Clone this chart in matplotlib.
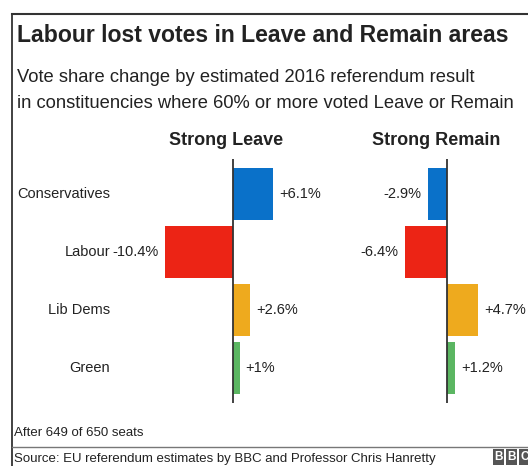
import matplotlib
matplotlib.use("Agg")
import matplotlib.pyplot as plt
import matplotlib.transforms as mtrans
from matplotlib.font_manager import fontManager

# ---- data ----
parties = ["Conservatives", "Labour", "Lib Dems", "Green"]
leave_values = [6.1, -10.4, 2.6, 1.0]
remain_values = [-2.9, -6.4, 4.7, 1.2]
leave_labels = ["+6.1%", "-10.4%", "+2.6%", "+1%"]
remain_labels = ["-2.9%", "-6.4%", "+4.7%", "+1.2%"]
colors = ["#0a71c9", "#ec2415", "#eeaa1e", "#5bb662"]
panel_titles = ["Strong Leave", "Strong Remain"]

title = "Labour lost votes in Leave and Remain areas"
subtitle = ["Vote share change by estimated 2016 referendum result",
            "in constituencies where 60% or more voted Leave or Remain"]
note = "After 649 of 650 seats"
source = "Source: EU referendum estimates by BBC and Professor Chris Hanretty"

names = {f.name for f in fontManager.ttflist}
NARROW = "Liberation Sans Narrow" if "Liberation Sans Narrow" in names else "Liberation Sans"
REG = "Liberation Sans"

W, H = 528, 466
fig = plt.figure(figsize=(W / 100, H / 100), dpi=100)
fig.patch.set_facecolor("white")

def fx(x):
    return x / W

def fy(y):
    return 1 - y / H

TXT = "#222222"

# frame
fig.add_artist(plt.Line2D([fx(12), fx(12)], [fy(14), fy(466)], color="#333333", lw=1.3))
fig.add_artist(plt.Line2D([fx(12), fx(528)], [fy(14), fy(14)], color="#333333", lw=1.5))
fig.add_artist(plt.Line2D([fx(12), fx(528)], [fy(446.5), fy(446.5)], color="#777777", lw=1.0))

# titles
title_size = 19.5 if NARROW != REG else 16.6
fig.text(fx(17), fy(36), title, fontsize=title_size, fontweight="bold", family=NARROW,
         color=TXT, va="center", ha="left")
fig.text(fx(17), fy(78), subtitle[0], fontsize=13.2, family=REG, color=TXT, va="center", ha="left")
fig.text(fx(17), fy(103), subtitle[1], fontsize=13.2, family=REG, color=TXT, va="center", ha="left")

# panel geometry (pixels)
scale = 6.5          # px per percentage point
row0, step = 194, 58  # row center and spacing in px
top_px, bot_px = 159, 403
zeros = [233, 447]
spans = [(150, 330), (395, 510)]
headers_x = [226, 436]
values = [leave_values, remain_values]
labels = [leave_labels, remain_labels]

y_top = (top_px - row0) / step
y_bot = (bot_px - row0) / step

for k in range(2):
    x0, x1 = spans[k]
    z = zeros[k]
    ax = fig.add_axes([fx(x0), fy(bot_px), (x1 - x0) / W, (bot_px - top_px) / H])
    ax.set_xlim((x0 - z) / scale, (x1 - z) / scale)
    ax.set_ylim(y_bot, y_top)
    ax.axis("off")
    ypos = list(range(len(parties)))
    ax.barh(ypos, values[k], height=0.9, color=colors, edgecolor="none", zorder=2)
    ax.axvline(0, color="#333333", lw=1.3, zorder=3)
    for i, (v, lab) in enumerate(zip(values[k], labels[k])):
        if v >= 0:
            ax.annotate(lab, (v, i), xytext=(4.5, 0), textcoords="offset points",
                        ha="left", va="center", fontsize=10.5, family=REG, color=TXT)
        else:
            ax.annotate(lab, (v, i), xytext=(-5, 0), textcoords="offset points",
                        ha="right", va="center", fontsize=10.5, family=REG, color=TXT)
    fig.text(fx(headers_x[k]), fy(140), panel_titles[k], fontsize=13, fontweight="bold",
             family=NARROW, color=TXT, ha="center", va="center")
    if k == 0:
        tr = mtrans.blended_transform_factory(fig.transFigure, ax.transData)
        for i, p in enumerate(parties):
            ax.text(fx(110), i, p, transform=tr, ha="right", va="center",
                    fontsize=10.5, family=REG, color=TXT, clip_on=False)

# footer
fig.text(fx(14), fy(433), note, fontsize=9.5, family=REG, color=TXT, ha="left", va="center")
fig.text(fx(14), fy(459), source, fontsize=9.5, family=REG, color=TXT, ha="left", va="center")

# BBC blocks
for j, ch in enumerate("BBC"):
    bx = 493 + j * 13
    fig.add_artist(plt.Rectangle((fx(bx), fy(465)), 11 / W, 16 / H, transform=fig.transFigure,
                                 facecolor="#555555", edgecolor="none"))
    fig.text(fx(bx + 5.5), fy(457), ch, fontsize=8.5, fontweight="bold", family=REG,
             color="white", ha="center", va="center")

fig.savefig("out.png", dpi=100, facecolor="white")
